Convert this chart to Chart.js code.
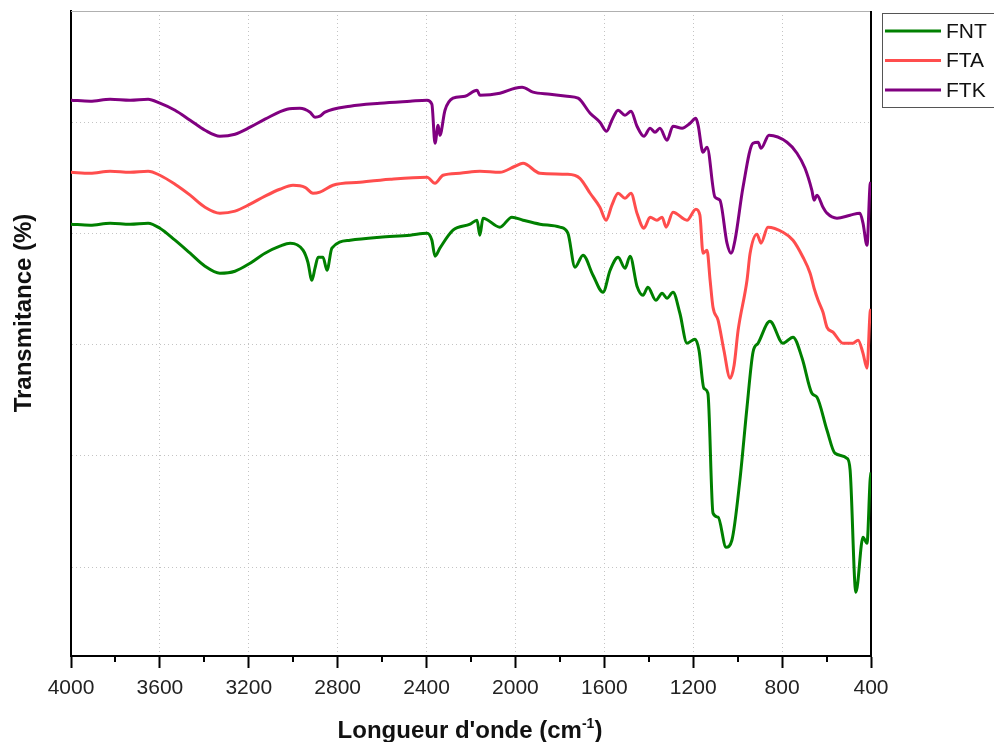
<!DOCTYPE html>
<html>
<head>
<meta charset="utf-8">
<title>FTIR - FNT / FTA / FTK</title>
<script src="https://cdn.jsdelivr.net/npm/chart.js@4.4.1/dist/chart.umd.min.js"></script>
<style>
    body { margin: 0; background: #fff; }
    #wrap { width: 994px; height: 742px; position: relative; }
</style>
</head>
<body>
<div id="wrap"><canvas id="ftirChart"></canvas></div>
<script>
// Series labels and colours
const seriesNames = ['FNT', 'FTA', 'FTK'];
const seriesColors = ['#008000', '#ff4d4d', '#800080'];

// X tick labels (wavenumber, cm-1)
const xTickValues = [4000, 3600, 3200, 2800, 2400, 2000, 1600, 1200, 800, 400];
const xMinorTicks = [3800, 3400, 3000, 2600, 2200, 1800, 1400, 1000, 600];
const yGridValues = [10, 20, 30, 40, 50];

// FNT spectrum
const fntWave = [4000, 3914, 3824, 3734, 3653, 3600, 3532, 3464, 3397, 3330, 3262, 3194, 3127, 3060, 3014,
    2956, 2934, 2916, 2902, 2888, 2866, 2848, 2826, 2744, 2610, 2474, 2398, 2376, 2362, 2340, 2281, 2204,
    2173, 2160, 2146, 2070, 2016, 1966, 1890, 1800, 1764, 1732, 1696, 1651, 1606, 1574, 1538, 1507, 1484,
    1453, 1426, 1404, 1368, 1340, 1318, 1291, 1260, 1228, 1192, 1174, 1152, 1134, 1111, 1088, 1052, 1026,
    990, 958, 931, 908, 855, 796, 751, 710, 666, 643, 598, 562, 508, 494, 468, 436, 418, 404, 400];
const fntTrans = [40.83, 40.74, 40.92, 40.83, 40.92, 40.47, 39.39, 38.22, 37.05, 36.42, 36.60, 37.32, 38.22,
    38.85, 39.12, 38.49, 37.41, 35.79, 36.87, 37.86, 37.86, 36.69, 38.67, 39.39, 39.66, 39.84, 40.02, 39.39,
    37.95, 38.67, 40.29, 40.83, 41.19, 39.84, 41.37, 40.56, 41.46, 41.19, 40.83, 40.56, 40.02, 36.96, 38.04,
    36.24, 34.71, 36.69, 37.86, 36.87, 37.95, 35.25, 34.44, 35.16, 33.99, 34.62, 34.17, 34.71, 32.82, 30.13,
    30.49, 29.50, 26.08, 25.63, 14.84, 14.48, 11.78, 12.41, 17.81, 24.37, 29.32, 30.13, 32.10, 30.13, 30.67,
    28.78, 25.63, 25.27, 22.30, 20.23, 19.78, 18.71, 7.73, 12.68, 12.14, 17.81, 18.50];

// FTA spectrum
const ftaWave = [4000, 3914, 3824, 3734, 3653, 3600, 3532, 3464, 3397, 3330, 3262, 3194, 3127, 3060, 3001,
    2947, 2911, 2880, 2821, 2700, 2564, 2398, 2362, 2326, 2250, 2160, 2070, 2002, 1966, 1890, 1768, 1710,
    1664, 1620, 1592, 1566, 1538, 1507, 1480, 1453, 1422, 1394, 1363, 1340, 1322, 1291, 1228, 1188, 1170,
    1156, 1138, 1124, 1111, 1088, 1062, 1034, 1016, 998, 958, 944, 913, 895, 864, 796, 751, 706, 674, 656,
    638, 616, 598, 571, 526, 481, 458, 436, 418, 404, 400];
const ftaTrans = [45.50, 45.41, 45.59, 45.50, 45.59, 45.23, 44.42, 43.44, 42.36, 41.82, 42.00, 42.63, 43.35,
    43.97, 44.33, 44.15, 43.61, 43.71, 44.33, 44.60, 44.87, 45.05, 44.51, 45.23, 45.41, 45.59, 45.50, 46.04,
    46.31, 45.41, 45.32, 44.96, 43.61, 42.36, 41.19, 42.54, 43.61, 43.17, 43.61, 41.82, 40.47, 41.46, 41.19,
    41.46, 40.56, 41.91, 41.19, 42.18, 41.64, 38.22, 38.49, 35.79, 33.36, 32.19, 29.50, 26.98, 28.15, 31.29,
    35.79, 38.22, 39.93, 39.12, 40.56, 40.11, 39.39, 37.86, 36.42, 35.07, 33.99, 32.91, 31.56, 31.12, 30.13,
    30.13, 30.40, 29.23, 27.88, 32.91, 33.20];

// FTK spectrum
const ftkWave = [4000, 3914, 3824, 3734, 3653, 3600, 3532, 3464, 3397, 3330, 3262, 3194, 3127, 3028, 2970,
    2924, 2902, 2880, 2857, 2744, 2610, 2474, 2398, 2376, 2362, 2348, 2340, 2317, 2281, 2227, 2173, 2160,
    2070, 2002, 1970, 1921, 1844, 1768, 1718, 1664, 1620, 1590, 1566, 1538, 1507, 1480, 1453, 1422, 1394,
    1372, 1350, 1318, 1291, 1250, 1214, 1188, 1178, 1156, 1138, 1102, 1080, 1048, 1030, 1012, 976, 931, 908,
    895, 859, 778, 733, 697, 666, 656, 643, 616, 598, 553, 494, 450, 436, 418, 404, 400];
const ftkTrans = [51.98, 51.89, 52.07, 51.98, 52.07, 51.71, 51.08, 50.18, 49.28, 48.74, 48.92, 49.55, 50.27,
    51.17, 51.26, 50.90, 50.45, 50.54, 50.90, 51.44, 51.71, 51.89, 51.98, 51.62, 48.11, 49.73, 48.83, 51.08,
    52.16, 52.34, 52.88, 52.43, 52.61, 53.06, 53.15, 52.70, 52.52, 52.34, 52.16, 50.81, 50.00, 49.19, 50.18,
    51.08, 50.63, 50.99, 49.64, 48.74, 49.46, 49.10, 49.46, 48.38, 49.64, 49.46, 49.91, 50.36, 49.73, 47.30,
    47.75, 43.26, 42.99, 39.12, 38.22, 39.39, 44.15, 48.11, 48.20, 47.66, 48.83, 48.20, 47.21, 45.86, 43.88,
    42.99, 43.44, 42.36, 41.82, 41.37, 41.64, 41.82, 40.92, 38.94, 44.40, 44.60];

const seriesWave = [fntWave, ftaWave, ftkWave];
const seriesTrans = [fntTrans, ftaTrans, ftkTrans];

const FONT = '"Liberation Sans", Arial, sans-serif';

// Build Chart.js datasets from the arrays above
function buildDatasets() {
    return seriesNames.map((name, i) => ({
        label: name,
        data: seriesWave[i].map((w, k) => ({ x: w, y: seriesTrans[i][k] })),
        borderColor: seriesColors[i],
        borderWidth: 3,
        borderJoinStyle: 'round',
        pointRadius: 0,
        cubicInterpolationMode: 'monotone',
        fill: false
    }));
}

// Frame, minor ticks, axis titles and boxed legend
const extrasPlugin = {
    id: 'extras',
    beforeDatasetsDraw(chart) {
        const { ctx, chartArea } = chart;
        ctx.save();
        // top border (light) and right border (black)
        ctx.strokeStyle = '#b0b0b0';
        ctx.lineWidth = 1;
        ctx.beginPath();
        ctx.moveTo(chartArea.left, chartArea.top + 0.5);
        ctx.lineTo(chartArea.right, chartArea.top + 0.5);
        ctx.stroke();
        ctx.strokeStyle = '#000';
        ctx.lineWidth = 2;
        ctx.beginPath();
        ctx.moveTo(chartArea.right, chartArea.top);
        ctx.lineTo(chartArea.right, chartArea.bottom);
        ctx.stroke();
        ctx.restore();
    },
    afterDraw(chart) {
        const { ctx, chartArea } = chart;
        const xScale = chart.scales.x;
        ctx.save();

        // minor ticks
        ctx.strokeStyle = '#000';
        ctx.lineWidth = 2;
        xMinorTicks.forEach(v => {
            const px = Math.round(xScale.getPixelForValue(v));
            ctx.beginPath();
            ctx.moveTo(px, chartArea.bottom);
            ctx.lineTo(px, chartArea.bottom + 6);
            ctx.stroke();
        });

        // y title
        ctx.fillStyle = '#111';
        ctx.font = 'bold 24px ' + FONT;
        ctx.textAlign = 'center';
        ctx.textBaseline = 'middle';
        ctx.save();
        ctx.translate(24, 313);
        ctx.rotate(-Math.PI / 2);
        ctx.fillText('Transmitance (%)', 0, 0);
        ctx.restore();

        // x title with superscript
        const main = "Longueur d'onde (cm";
        const sup = '-1';
        const end = ')';
        ctx.font = 'bold 24px ' + FONT;
        const wMain = ctx.measureText(main).width;
        const wEnd = ctx.measureText(end).width;
        ctx.font = 'bold 14px ' + FONT;
        const wSup = ctx.measureText(sup).width;
        let x = 470 - (wMain + wSup + wEnd) / 2;
        const y = 738;
        ctx.textAlign = 'left';
        ctx.textBaseline = 'alphabetic';
        ctx.font = 'bold 24px ' + FONT;
        ctx.fillText(main, x, y);
        x += wMain;
        ctx.font = 'bold 14px ' + FONT;
        ctx.fillText(sup, x, y - 10);
        x += wSup;
        ctx.font = 'bold 24px ' + FONT;
        ctx.fillText(end, x, y);

        // legend box
        ctx.strokeStyle = '#555';
        ctx.lineWidth = 1;
        ctx.strokeRect(882.5, 13.5, 130, 94);
        seriesNames.forEach((name, i) => {
            const ly = 31 + i * 29.5;
            ctx.strokeStyle = seriesColors[i];
            ctx.lineWidth = 3;
            ctx.beginPath();
            ctx.moveTo(885, ly);
            ctx.lineTo(941, ly);
            ctx.stroke();
            ctx.fillStyle = '#111';
            ctx.font = '21px ' + FONT;
            ctx.textBaseline = 'middle';
            ctx.fillText(name, 946, ly + 1);
        });
        ctx.restore();
    }
};

const ftirChart = new Chart(document.getElementById('ftirChart'), {
    type: 'line',
    data: { datasets: buildDatasets() },
    options: {
        responsive: true,
        maintainAspectRatio: false,
        animation: false,
        layout: { padding: { top: 11, right: 123, bottom: 0, left: 0 } },
        plugins: {
            legend: { display: false },
            tooltip: { enabled: false }
        },
        scales: {
            x: {
                type: 'linear',
                reverse: true,
                min: 400,
                max: 4000,
                afterFit: (scale) => { scale.height = 86; },
                afterBuildTicks: (scale) => { scale.ticks = xTickValues.map(v => ({ value: v })); },
                ticks: {
                    color: '#222',
                    font: { family: FONT, size: 21 },
                    padding: 8,
                    maxRotation: 0,
                    autoSkip: false,
                    callback: (v) => String(v)
                },
                grid: {
                    color: (c) => (c.tick && (c.tick.value === 400 || c.tick.value === 4000)) ? 'transparent' : '#c4c4c4',
                    lineWidth: 1,
                    tickLength: 12,
                    tickColor: '#000',
                    tickWidth: 2
                },
                border: { display: true, color: '#000', width: 2, dash: [1, 3] }
            },
            y: {
                min: 2,
                max: 60,
                afterFit: (scale) => { scale.width = 71; },
                afterBuildTicks: (scale) => { scale.ticks = yGridValues.map(v => ({ value: v })); },
                ticks: { display: false },
                grid: { color: '#c4c4c4', lineWidth: 1, drawTicks: false },
                border: { display: true, color: '#000', width: 2, dash: [1, 3] }
            }
        }
    },
    plugins: [extrasPlugin]
});
</script>
</body>
</html>
